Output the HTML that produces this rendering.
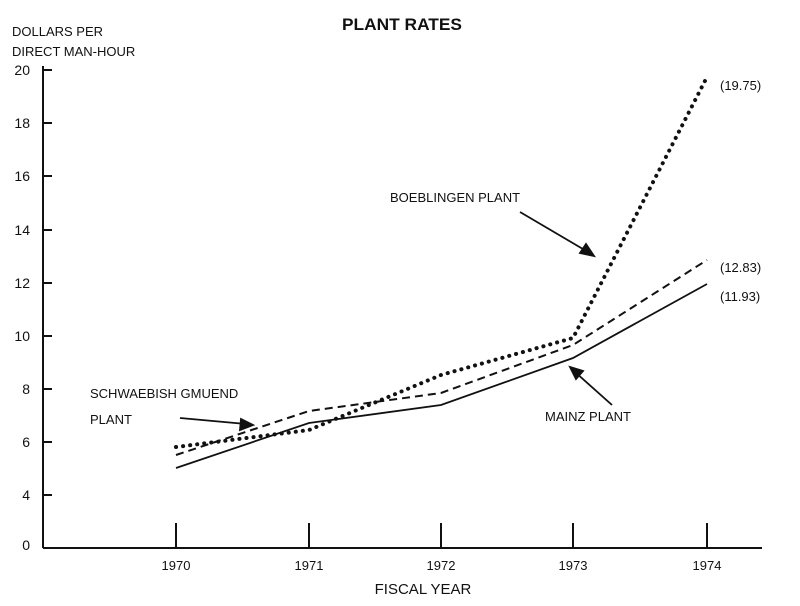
<!DOCTYPE html>
<html><head><meta charset="utf-8"><style>
body{margin:0;background:#fff;}
svg text{font-family:"Liberation Sans",sans-serif;fill:#111;}
</style></head><body>
<svg width="800" height="601" viewBox="0 0 800 601" xmlns="http://www.w3.org/2000/svg">
<rect width="800" height="601" fill="#fff"/>
<text x="342" y="30" font-size="17" font-weight="bold" textLength="120" lengthAdjust="spacingAndGlyphs">PLANT RATES</text>
<text x="12" y="36" font-size="13">DOLLARS PER</text>
<text x="12" y="56" font-size="13">DIRECT MAN-HOUR</text>
<g stroke="#111" stroke-width="2" fill="none">
<line x1="43" y1="66" x2="43" y2="548"/>
<line x1="43" y1="548" x2="762" y2="548"/>
<line x1="43" y1="70" x2="52" y2="70"/><line x1="43" y1="123" x2="52" y2="123"/>
<line x1="43" y1="176" x2="52" y2="176"/><line x1="43" y1="230" x2="52" y2="230"/>
<line x1="43" y1="283" x2="52" y2="283"/><line x1="43" y1="336" x2="52" y2="336"/>
<line x1="43" y1="389" x2="52" y2="389"/><line x1="43" y1="442" x2="52" y2="442"/>
<line x1="43" y1="495" x2="52" y2="495"/>
<line x1="176" y1="523" x2="176" y2="548"/><line x1="309" y1="523" x2="309" y2="548"/>
<line x1="441" y1="523" x2="441" y2="548"/><line x1="573" y1="523" x2="573" y2="548"/>
<line x1="707" y1="523" x2="707" y2="548"/>
</g>
<g font-size="14" text-anchor="end">
<text x="30" y="75">20</text><text x="30" y="128">18</text><text x="30" y="181">16</text>
<text x="30" y="235">14</text><text x="30" y="288">12</text><text x="30" y="341">10</text>
<text x="30" y="394">8</text><text x="30" y="447">6</text><text x="30" y="500">4</text>
<text x="30" y="550">0</text>
</g>
<g font-size="13" text-anchor="middle">
<text x="176" y="570">1970</text><text x="309" y="570">1971</text><text x="441" y="570">1972</text>
<text x="573" y="570">1973</text><text x="707" y="570">1974</text>
</g>
<text x="423" y="594" font-size="15" text-anchor="middle">FISCAL YEAR</text>
<polyline points="176,468 309,423 441,405 573,358 707,284" fill="none" stroke="#111" stroke-width="1.8"/>
<polyline points="176,455 309,411 441,393 573,345 707,260" fill="none" stroke="#111" stroke-width="2" stroke-dasharray="8,5"/>
<polyline points="176,447 309,430 441,375 573,338 707,77" fill="none" stroke="#111" stroke-width="4" stroke-dasharray="0.1,7" stroke-linecap="round"/>
<g font-size="13">
<text x="720" y="90">(19.75)</text>
<text x="720" y="272">(12.83)</text>
<text x="720" y="301">(11.93)</text>
<text x="390" y="202">BOEBLINGEN PLANT</text>
<text x="90" y="398">SCHWAEBISH GMUEND</text>
<text x="90" y="424">PLANT</text>
<text x="545" y="421">MAINZ PLANT</text>
</g>
<g stroke="#111" stroke-width="1.8" fill="#111">
<line x1="520" y1="212" x2="588" y2="252"/><polygon points="594,256 580,253 586,244"/>
<line x1="180" y1="418" x2="246" y2="424"/><polygon points="253,425 240,430 241,419"/>
<line x1="612" y1="405" x2="575" y2="372"/><polygon points="570,367 583,371 576,379"/>
</g>
</svg>
</body></html>
